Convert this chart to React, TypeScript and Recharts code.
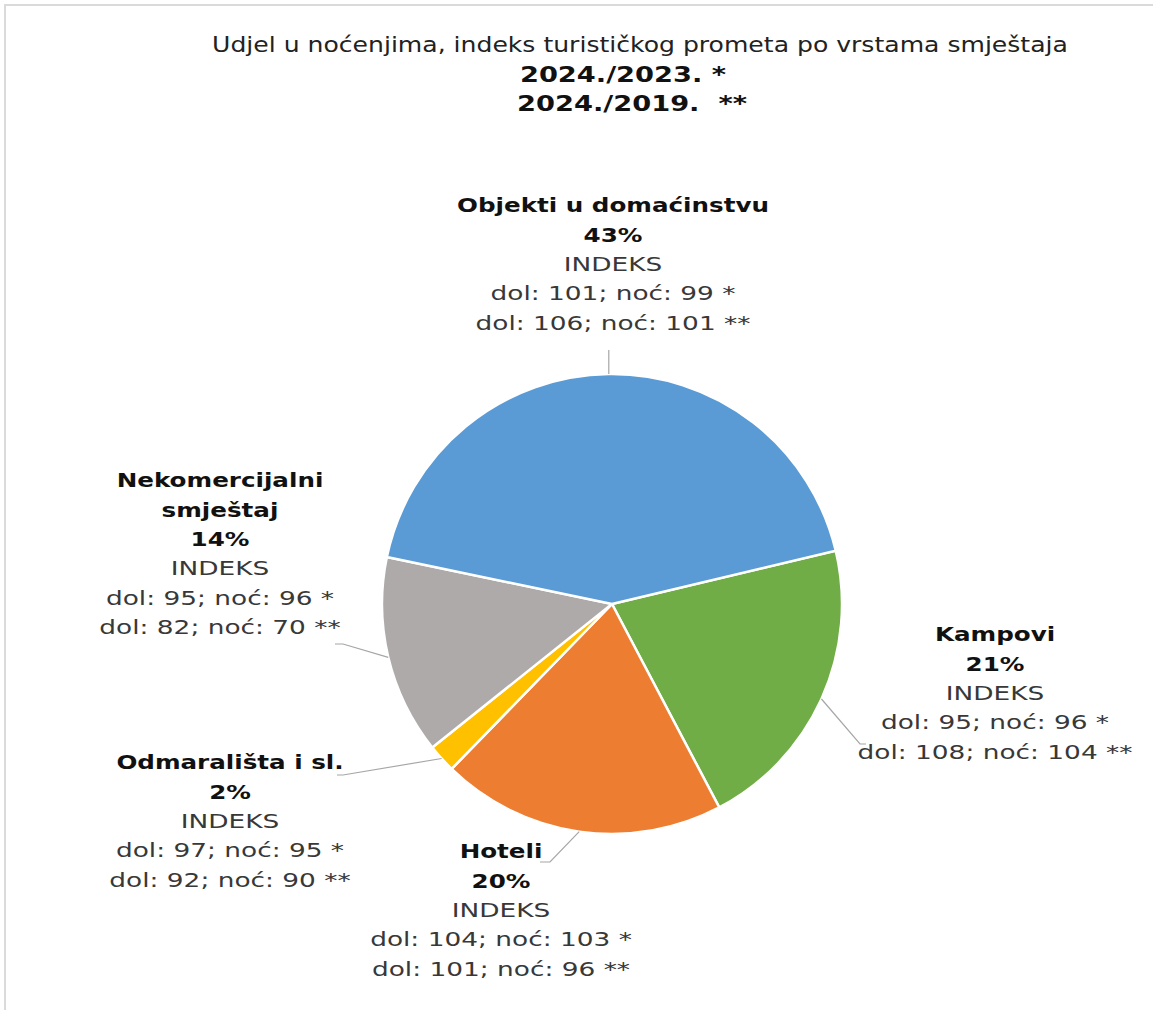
import React from 'react';
import { PieChart, Pie, Cell } from 'recharts';

// udjel u noćenjima (%) i indeksi dolazaka / noćenja
const categories = ['Kampovi', 'Hoteli', 'Odmarališta i sl.', 'Nekomercijalni smještaj', 'Objekti u domaćinstvu'];
const shares = [21, 20, 2, 14, 43];
const dolPrev = [95, 104, 97, 95, 101];
const nocPrev = [96, 103, 95, 96, 99];
const dol2019 = [108, 101, 92, 82, 106];
const noc2019 = [104, 96, 90, 70, 101];

const titleLines = ['Udjel u noćenjima, indeks turističkog prometa po vrstama smještaja', '2024./2023. *', '2024./2019.  **'];
const TITLE_X = [640, 623, 632];

const COLORS = ['#70AD47', '#ED7D31', '#FFC000', '#AEAAAA', '#5B9BD5'];

// položaj natpisa u odnosu na središte pite
const LAYOUT: Record<string, { tx: number; ty: number; lx: number; ly: number; tail: number; name: string[] }> = {
  Kampovi: { tx: 383, ty: 30, lx: 248, ly: 140, tail: 6, name: ['Kampovi'] },
  Hoteli: { tx: -111, ty: 247, lx: -62, ly: 258, tail: -10, name: ['Hoteli'] },
  'Odmarališta i sl.': { tx: -382, ty: 158, lx: -269, ly: 171, tail: -6, name: ['Odmarališta i sl.'] },
  'Nekomercijalni smještaj': { tx: -392, ty: -124, lx: -269, ly: 40, tail: -8, name: ['Nekomercijalni', 'smještaj'] },
  'Objekti u domaćinstvu': { tx: 1, ty: -399, lx: 0, ly: -254, tail: 0, name: ['Objekti u domaćinstvu'] },
};

const FONT = '"DejaVu Sans", Verdana, sans-serif';
const SX_BOLD = 1.23;
const SX_NORM = 1.32;
const LINE_H = 29.5;
const RAD = Math.PI / 180;

const data = categories.map((name, i) => ({
  name,
  value: shares[i],
  idx: [`dol: ${dolPrev[i]}; noć: ${nocPrev[i]} *`, `dol: ${dol2019[i]}; noć: ${noc2019[i]} **`],
}));

const renderLabel = (props: any) => {
  const { cx, cy, midAngle, outerRadius, index } = props;
  const d = data[index];
  const l = LAYOUT[d.name];
  const ex = cx + outerRadius * Math.cos(-midAngle * RAD);
  const ey = cy + outerRadius * Math.sin(-midAngle * RAD);
  const lx = l.lx === 0 && l.tail === 0 ? ex : cx + l.lx;
  const ly = cy + l.ly;
  const lines = [
    ...l.name.map((t) => ({ t, bold: true })),
    { t: `${d.value}%`, bold: true },
    { t: 'INDEKS', bold: false },
    ...d.idx.map((t) => ({ t, bold: false })),
  ];
  return (
    <g key={`lbl-${index}`}>
      <polyline
        points={`${ex},${ey} ${lx},${ly} ${lx + l.tail},${ly}`}
        fill="none"
        stroke="#A6A6A6"
        strokeWidth={1.2}
      />
      {lines.map((ln, i) => (
        <g
          key={i}
          transform={`translate(${cx + l.tx},${cy + l.ty + i * LINE_H}) scale(${ln.bold ? SX_BOLD : SX_NORM},1)`}
        >
          <text
            x={0}
            y={0}
            textAnchor="middle"
            dominantBaseline="central"
            fontFamily={FONT}
            fontSize={20}
            fontWeight={ln.bold ? 'bold' : 'normal'}
            fill={ln.bold ? '#111' : '#383838'}
          >
            {ln.t}
          </text>
        </g>
      ))}
    </g>
  );
};

export default function App() {
  return (
    <div style={{ position: 'absolute', left: 0, top: 0, width: 1153, height: 1010, background: '#fff', overflow: 'hidden' }}>
      <div
        style={{
          position: 'absolute',
          left: 4,
          top: 4,
          width: 1160,
          height: 1020,
          borderTop: '2px solid #dadada',
          borderLeft: '2px solid #dadada',
        }}
      />
      {titleLines.map((t, i) => (
        <div
          key={i}
          style={{
            position: 'absolute',
            left: TITLE_X[i] - 600,
            width: 1200,
            top: 45 + i * 29.5 - 15,
            height: 30,
            lineHeight: '30px',
            textAlign: 'center',
            fontFamily: FONT,
            fontSize: i === 0 ? 22 : 20.5,
            fontWeight: i === 0 ? 'normal' : 'bold',
            color: i === 0 ? '#222' : '#111',
            whiteSpace: 'pre',
            transform: `scaleX(${i === 0 ? 1.14 : 1.33})`,
          }}
        >
          {t}
        </div>
      ))}
      <div style={{ position: 'absolute', left: 0, top: 0 }}>
        <PieChart width={1153} height={1010} margin={{ top: 0, right: 0, bottom: 0, left: 0 }}>
          <Pie
            data={data}
            dataKey="value"
            nameKey="name"
            cx={612}
            cy={604}
            outerRadius={230}
            startAngle={13.4}
            endAngle={-346.6}
            stroke="#fff"
            strokeWidth={2.5}
            labelLine={false}
            label={renderLabel}
            isAnimationActive={false}
          >
            {data.map((entry, i) => (
              <Cell key={`cell-${i}`} fill={COLORS[i]} />
            ))}
          </Pie>
        </PieChart>
      </div>
    </div>
  );
}
